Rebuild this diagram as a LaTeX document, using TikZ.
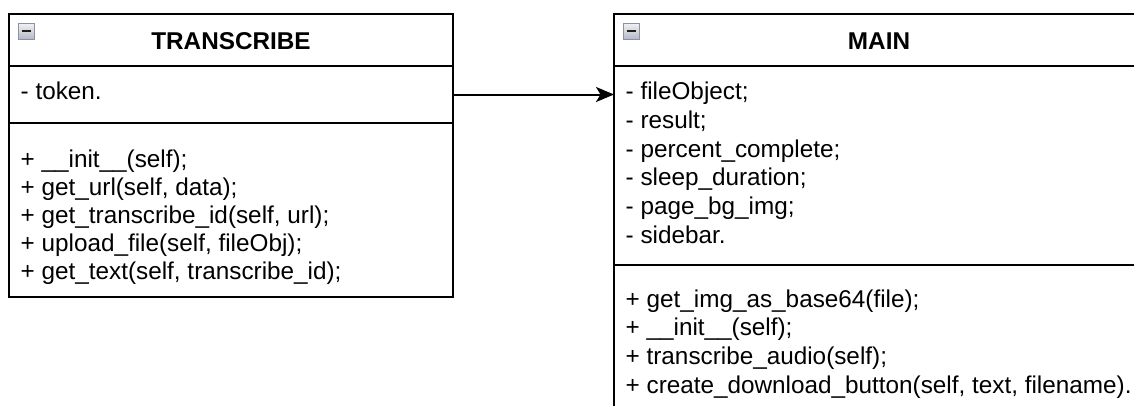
\documentclass[tikz,border=0pt]{standalone}
\usepackage{fontspec}
\setmainfont{Liberation Sans}
\usetikzlibrary{arrows.meta}

\definecolor{iconTop}{HTML}{F2F2F2}
\definecolor{iconBot}{HTML}{B4B9C6}
\definecolor{iconEdge}{HTML}{8A93A5}
\definecolor{iconDash}{HTML}{1E1E1E}

\tikzset{
  compartment/.style={draw=black, line width=2pt, inner sep=0pt, outer sep=0pt},
  classname/.style={anchor=base, inner sep=0pt, font=\fontsize{24.3}{29}\selectfont\bfseries},
  member/.style={anchor=base west, inner sep=0pt, font=\fontsize{24.3}{29}\selectfont},
  collapser/.style={draw=iconEdge, line width=1pt, top color=iconTop, bottom color=iconBot,
    minimum width=16pt, minimum height=16pt, inner sep=0pt,
    path picture={\draw[line width=2pt, iconDash]
      ([xshift=-4.5pt]path picture bounding box.center) --
      ([xshift=4.5pt]path picture bounding box.center);}},
  assoc/.style={draw=black, line width=2pt,
    -{Stealth[length=18pt, width=15pt, inset=4.5pt]}}
}

\begin{document}
\begin{tikzpicture}[x=1pt, y=-1pt]
\useasboundingbox (0,0) rectangle (1134,405);
\clip (0,0) rectangle (1134,405);

% class TRANSCRIBE
\node[compartment, minimum width=444pt, minimum height=52pt]  (tHead) at (231,40) {};
\node[compartment, minimum width=444pt, minimum height=57pt]  (tAttr) at (231,94.5) {};
\node[compartment, minimum width=444pt, minimum height=174pt] (tMeth) at (231,210) {};
\node[collapser] (tIcon) at (26.5,31) {};
\node[classname] (tName) at (231,49.5) {TRANSCRIBE};
\node[member] (tA1) at (20.5,99.5) {- token.};
\foreach \txt [count=\i] in {
    {+ \_\_init\_\_(self);},
    {+ get\_url(self, data);},
    {+ get\_transcribe\_id(self, url);},
    {+ upload\_file(self, fileObj);},
    {+ get\_text(self, transcribe\_id);}}
  \node[member] (tM\i) at (20.5,{167+(\i-1)*28}) {\txt};

% class MAIN
\node[compartment, minimum width=530pt, minimum height=52pt]  (mHead) at (879,40) {};
\node[compartment, minimum width=530pt, minimum height=199pt] (mAttr) at (879,165.5) {};
\node[compartment, minimum width=530pt, minimum height=185pt] (mMeth) at (879,357.5) {};
\node[collapser] (mIcon) at (631.5,31) {};
\node[classname] (mName) at (879,49.5) {MAIN};
\foreach \txt [count=\i] in {
    {- fileObject;},
    {- result;},
    {- percent\_complete;},
    {- sleep\_duration;},
    {- page\_bg\_img;},
    {- sidebar.}}
  \node[member] (mA\i) at (625.5,{99.5+(\i-1)*28.8}) {\txt};
\foreach \txt [count=\i] in {
    {+ get\_img\_as\_base64(file);},
    {+ \_\_init\_\_(self);},
    {+ transcribe\_audio(self);},
    {+ create\_download\_button(self, text, filename).}}
  \node[member] (mM\i) at (625.5,{307+(\i-1)*28.8}) {\txt};

% association
\draw[assoc] (tAttr.east) -- (tAttr.east -| mAttr.west);
\end{tikzpicture}
\end{document}
